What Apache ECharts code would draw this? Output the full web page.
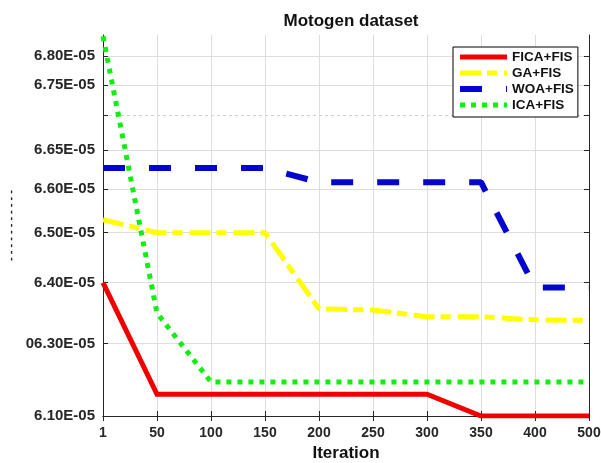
<!DOCTYPE html>
<html>
<head>
<meta charset="utf-8">
<script src="https://cdn.jsdelivr.net/npm/echarts@6/dist/echarts.min.js"></script>
<style>
	html, body { margin: 0; padding: 0; background: #fff; }
	#main { width: 601px; height: 463px; }
</style>
</head>
<body>
<div id="main"></div>
<script>
	// iterations on the x axis (evenly spaced ticks, 450 is not there)
	var iterations = ['1', '50', '100', '150', '200', '250', '300', '350', '400', '500']

	// values in units of 1E-05
	var ficaFis = [6.40, 6.16, 6.16, 6.16, 6.16, 6.16, 6.16, 6.10, 6.10, 6.10]
	var gaFis = [6.53, 6.50, 6.50, 6.50, 6.357, 6.355, 6.344, 6.344, 6.339, 6.338]
	var woaFis = [6.627, 6.627, 6.627, 6.627, 6.609, 6.609, 6.609, 6.609, 6.392, 6.392]
	var icaFis = [6.834, 6.35, 6.194, 6.194, 6.194, 6.194, 6.194, 6.194, 6.194, 6.194]

	// the y axis of the figure is not linear: each tick value sits at its own level
	var yTickValues = [6.10, 6.30, 6.40, 6.50, 6.60, 6.65, 6.70, 6.75, 6.80]
	var yTickLevels = [0, 19.0, 35.0, 48.1, 59.5, 69.8, 79.0, 86.9, 94.5]
	var yTickLabels = ['6.10E-05', '06.30E-05', '6.40E-05', '6.50E-05', '6.60E-05', '6.65E-05', '', '6.75E-05', '6.80E-05']
	var yLevelMax = 100

	// value -> axis level (piecewise between ticks)
	function toLevel(v) {
		var n = yTickValues.length
		var i = 0
		if (v >= yTickValues[n - 1]) {
			i = n - 2
		} else {
			while (i < n - 2 && v > yTickValues[i + 1]) i++
		}
		var t = (v - yTickValues[i]) / (yTickValues[i + 1] - yTickValues[i])
		return yTickLevels[i] + t * (yTickLevels[i + 1] - yTickLevels[i])
	}

	var labelLevels = []
	var majorLevels = []
	var minorLevels = []
	yTickLevels.forEach(function (lv, i) {
		if (yTickLabels[i]) {
			labelLevels.push(lv)
			majorLevels.push(lv)
		} else {
			minorLevels.push(lv)
		}
	})

	function levelLabel(lv) {
		for (var i = 0; i < yTickLevels.length; i++) {
			if (Math.abs(yTickLevels[i] - lv) < 0.01) return yTickLabels[i]
		}
		return ''
	}

	var fontName = 'Liberation Sans'
	var axisColor = '#262626'

	var chart = echarts.init(document.getElementById('main'))
	chart.setOption({
		animation: false,
		backgroundColor: '#fff',
		title: {
			text: 'Motogen dataset',
			left: 346,
			top: 8,
			textAlign: 'center',
			textStyle: {
				fontFamily: fontName,
				fontWeight: 'bold',
				fontSize: 17,
				color: '#111'
			}
		},
		grid: {
			left: 103,
			right: 12,
			top: 35,
			bottom: 47,
			outerBoundsMode: 'none'
		},
		legend: {
			orient: 'vertical',
			left: 453,
			top: 47,
			itemWidth: 47,
			itemHeight: 6,
			itemGap: 2,
			padding: [3, 4, 5, 4],
			backgroundColor: '#fff',
			borderColor: '#000',
			borderWidth: 1,
			borderRadius: 0,
			itemStyle: { opacity: 0 },
			lineStyle: { width: 'inherit' },
			textStyle: {
				fontFamily: fontName,
				fontWeight: 'bold',
				fontSize: 13.5,
				lineHeight: 14,
				color: '#111'
			},
			data: ['FICA+FIS', 'GA+FIS', 'WOA+FIS', 'ICA+FIS']
		},
		xAxis: [{
			type: 'category',
			position: 'bottom',
			boundaryGap: false,
			data: iterations,
			name: 'Iteration',
			nameLocation: 'middle',
			nameGap: 29,
			nameTextStyle: {
				fontFamily: fontName,
				fontWeight: 'bold',
				fontSize: 17,
				color: '#111'
			},
			axisLine: { lineStyle: { color: axisColor, width: 1 } },
			axisTick: { inside: true, length: 5, interval: 0, lineStyle: { color: axisColor } },
			axisLabel: {
				interval: 0,
				margin: 10,
				fontFamily: fontName,
				fontWeight: 'bold',
				fontSize: 14,
				color: axisColor
			},
			splitLine: { show: true, interval: 0, lineStyle: { color: '#dedede', width: 1 } }
		}, {
			type: 'category',
			position: 'top',
			boundaryGap: false,
			data: iterations,
			axisLine: { lineStyle: { color: axisColor, width: 1 } },
			axisTick: { inside: true, length: 5, interval: 0, lineStyle: { color: axisColor } },
			axisLabel: { show: false },
			splitLine: { show: false }
		}],
		yAxis: [{
			type: 'value',
			position: 'left',
			min: 0,
			max: yLevelMax,
			name: '- - - - - - - - - - -',
			nameLocation: 'middle',
			nameRotate: 90,
			nameGap: 87,
			nameMoveOverlap: false,
			nameTextStyle: {
				fontFamily: fontName,
				fontWeight: 'bold',
				fontSize: 11,
				color: '#222'
			},
			axisLine: { show: true, lineStyle: { color: axisColor, width: 1 } },
			axisTick: { show: true, inside: true, length: 5, customValues: majorLevels, lineStyle: { color: axisColor } },
			axisLabel: {
				customValues: labelLevels,
				margin: 8,
				fontFamily: fontName,
				fontWeight: 'bold',
				fontSize: 15,
				color: axisColor,
				formatter: function (value) {
					return levelLabel(value)
				}
			},
			splitLine: { show: true, lineStyle: { color: '#dedede', width: 1 } }
		}, {
			type: 'value',
			position: 'right',
			min: 0,
			max: yLevelMax,
			axisLine: { show: true, lineStyle: { color: axisColor, width: 1 } },
			axisTick: { show: true, inside: true, length: 5, customValues: yTickLevels, lineStyle: { color: axisColor } },
			axisLabel: { show: false },
			splitLine: { show: false }
		}, {
			// unlabelled tick with its dashed grid line
			type: 'value',
			position: 'left',
			min: 0,
			max: yLevelMax,
			axisLine: { show: false },
			axisTick: { show: true, inside: true, length: 5, customValues: minorLevels, lineStyle: { color: axisColor } },
			axisLabel: { show: false },
			splitLine: { show: true, lineStyle: { color: '#cfcfcf', width: 1, type: [3, 3] } }
		}],
		series: [{
			name: 'FICA+FIS',
			type: 'line',
			data: ficaFis.map(toLevel),
			symbol: 'none',
			lineStyle: { color: '#f00000', width: 5, cap: 'butt', join: 'miter' },
			itemStyle: { color: '#f00000' }
		}, {
			name: 'GA+FIS',
			type: 'line',
			data: gaFis.map(toLevel),
			symbol: 'none',
			lineStyle: { color: '#ffff00', width: 5, type: [21, 6, 10, 7], cap: 'butt' },
			itemStyle: { color: '#ffff00' }
		}, {
			name: 'WOA+FIS',
			type: 'line',
			data: woaFis.map(toLevel),
			symbol: 'none',
			lineStyle: { color: '#0505d0', width: 6, type: [22, 24], cap: 'butt' },
			itemStyle: { color: '#0505d0' }
		}, {
			name: 'ICA+FIS',
			type: 'line',
			data: icaFis.map(toLevel),
			symbol: 'none',
			lineStyle: { color: '#11ee11', width: 5, type: [5, 6], cap: 'butt' },
			itemStyle: { color: '#11ee11' }
		}]
	})
</script>
</body>
</html>
